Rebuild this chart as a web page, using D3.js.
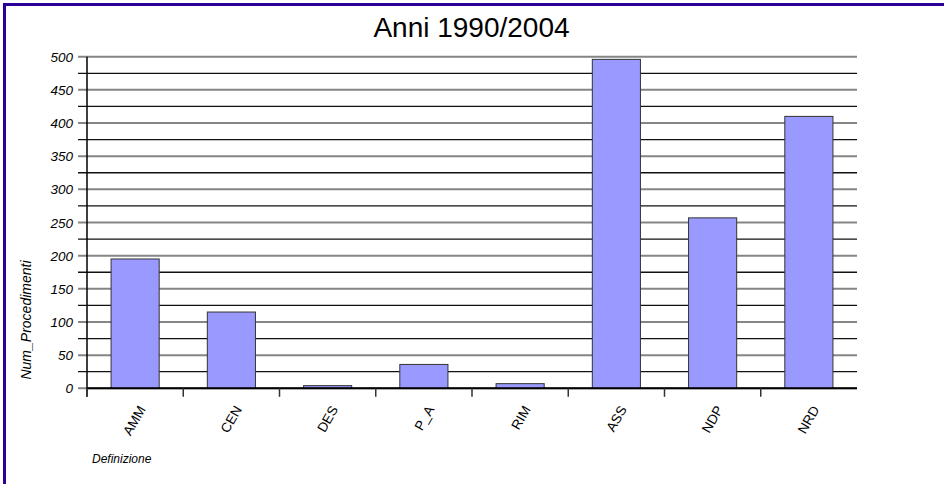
<!DOCTYPE html>
<html>
<head>
<meta charset="utf-8">
<script src="https://cdn.jsdelivr.net/npm/d3@7"></script>
<style>
  html, body { margin: 0; padding: 0; background: #fff; }
  svg { display: block; font-family: "Liberation Sans", Arial, sans-serif; }
</style>
</head>
<body>
<svg id="chart" width="944" height="484"></svg>
<script>
// Number of proceedings per definition, 1990–2004
const categories = ["AMM", "CEN", "DES", "P_A", "RIM", "ASS", "NDP", "NRD"];
const values = [195, 115, 4, 36, 7, 496, 257, 410];
const yTickLabels = [0, 50, 100, 150, 200, 250, 300, 350, 400, 450, 500];
const gridValues = d3.range(0, 501, 25);

const title = "Anni 1990/2004";
const yTitle = "Num_Procedimenti";
const xTitle = "Definizione";

const svg = d3.select("#chart");
const plotLeft = 87, plotRight = 857, plotTop = 56.7, plotBottom = 388.3;

const x = d3.scaleBand().domain(categories).range([plotLeft, plotRight])
  .paddingInner(0.5).paddingOuter(0.25);
const y = d3.scaleLinear().domain([0, 500]).range([plotBottom, plotTop]);
const step = x.step();

// frame
svg.append("rect")
  .attr("x", 4.5).attr("y", 4.5)
  .attr("width", 1200).attr("height", 800)
  .attr("fill", "none").attr("stroke", "#2a0096").attr("stroke-width", 3);

// title
svg.append("text")
  .attr("x", 471.5).attr("y", 37)
  .attr("text-anchor", "middle")
  .attr("font-size", 28).attr("fill", "#000")
  .text(title);

// horizontal grid lines (extending left as tick marks)
svg.append("g").selectAll("line").data(gridValues).join("line")
  .attr("x1", plotLeft - 9).attr("x2", plotRight)
  .attr("y1", d => y(d)).attr("y2", d => y(d))
  .attr("stroke", d => d % 50 === 0 ? "#858585" : "#111")
  .attr("stroke-width", d => d % 50 === 0 ? 2 : 1.3);

// y tick labels
svg.append("g").selectAll("text").data(yTickLabels).join("text")
  .attr("x", 73).attr("y", d => y(d) + 5)
  .attr("text-anchor", "end")
  .attr("font-size", 13.5).attr("font-style", "italic").attr("fill", "#000")
  .text(d => d);

// bars
svg.append("g").selectAll("rect").data(categories).join("rect")
  .attr("x", d => x(d))
  .attr("width", x.bandwidth())
  .attr("y", (d, i) => y(values[i]))
  .attr("height", (d, i) => y(0) - y(values[i]))
  .attr("fill", "#9999ff")
  .attr("stroke", "#333").attr("stroke-width", 1);

// y axis line
svg.append("line")
  .attr("x1", plotLeft).attr("x2", plotLeft)
  .attr("y1", plotTop).attr("y2", plotBottom + 8.5)
  .attr("stroke", "#000").attr("stroke-width", 1.5);

// x axis line
svg.append("line")
  .attr("x1", plotLeft).attr("x2", plotRight)
  .attr("y1", plotBottom).attr("y2", plotBottom)
  .attr("stroke", "#000").attr("stroke-width", 2);

// category boundary ticks
svg.append("g").selectAll("line").data(categories).join("line")
  .attr("x1", d => x(d) - step * 0.25).attr("x2", d => x(d) - step * 0.25)
  .attr("y1", plotBottom).attr("y2", plotBottom + 8.5)
  .attr("stroke", "#333").attr("stroke-width", 1.5);

// category labels, rotated
svg.append("g").selectAll("text").data(categories).join("text")
  .attr("transform", d => `translate(${x(d) + x.bandwidth() / 2 + 11},${plotBottom + 21}) rotate(-60)`)
  .attr("text-anchor", "end")
  .attr("font-size", 13.5).attr("fill", "#000")
  .text(d => d);

// axis titles
svg.append("text")
  .attr("transform", "translate(31,320) rotate(-90)")
  .attr("text-anchor", "middle")
  .attr("font-size", 14).attr("font-style", "italic").attr("fill", "#000")
  .text(yTitle);

svg.append("text")
  .attr("x", 92).attr("y", 463)
  .attr("font-size", 12).attr("font-style", "italic").attr("fill", "#000")
  .text(xTitle);
</script>
</body>
</html>
